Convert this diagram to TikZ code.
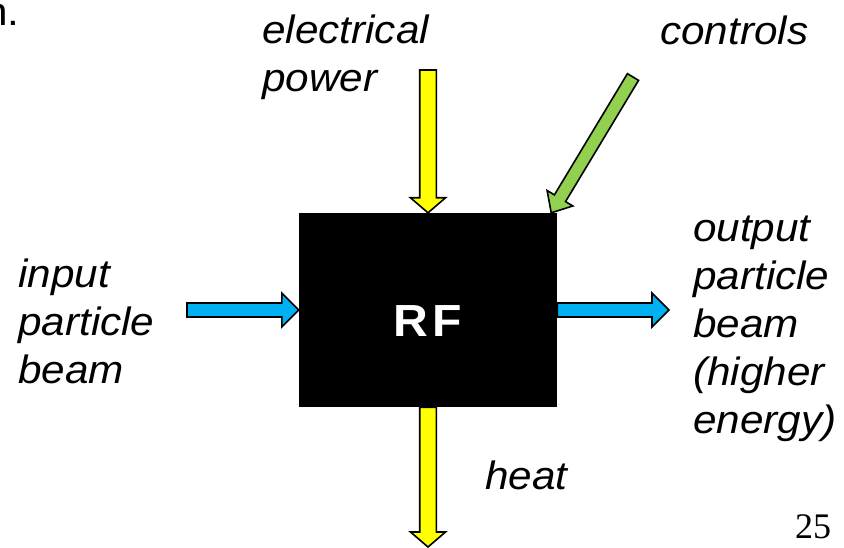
\documentclass[tikz,border=0pt]{standalone}
\usepackage{fontspec}
\setmainfont{Liberation Sans}[FakeStretch=1.07]
\newfontfamily\pagefont{Liberation Serif}
\usetikzlibrary{calc,positioning}

\definecolor{pwryellow}{RGB}{255,255,0}
\definecolor{beamblue}{RGB}{0,176,240}
\definecolor{ctlgreen}{RGB}{146,208,80}

% block arrow: fill, tail, tip, shaft half width, head half width, head length
\newcommand{\blockarrow}[6]{%
  \coordinate (hb) at ($(#3)!#6!(#2)$);
  \draw[arrowline, fill=#1]
    ($(#2)!#4!90:(#3)$) -- ($(hb)!#4!90:(#3)$) -- ($(hb)!#5!90:(#3)$) -- (#3)
    -- ($(hb)!#5!-90:(#3)$) -- ($(hb)!#4!-90:(#3)$) -- ($(#2)!#4!-90:(#3)$) -- cycle;}

\begin{document}
\begin{tikzpicture}[
  x=1pt, y=-1pt,
  lbl/.style={font=\fontsize{39.5}{48}\selectfont\itshape, align=left,
              inner sep=0pt, anchor=base west},
  blackbox/.style={fill=black, draw=none, minimum width=258pt,
                   minimum height=194pt, inner sep=0pt, text=white,
                   text height=52pt, text depth=0pt,
                   font=\fontsize{45}{50}\selectfont\bfseries},
  arrowline/.style={draw=black, line width=1.6pt, line join=miter},
]
\useasboundingbox (0,0) rectangle (844,548);
\clip (0,0) rectangle (844,548);

\node[blackbox] (rf) at (428,310) {R\kern4pt F};

% arrow ends
\coordinate (pwr) at (428,70);
\coordinate (ctl) at (633,77);
\coordinate (ctltip) at ([xshift=-6pt]rf.north east);
\coordinate (inbeam) at (187,310);
\coordinate (outbeam) at (669,310);
\coordinate (heatout) at (428,547);

\blockarrow{pwryellow}{pwr}{rf.north}{8.3pt}{17.5pt}{15pt}
\blockarrow{ctlgreen}{ctl}{ctltip}{6.5pt}{15pt}{17pt}
\blockarrow{beamblue}{inbeam}{rf.west}{7pt}{17pt}{17pt}
\blockarrow{beamblue}{rf.east}{outbeam}{7pt}{17pt}{17pt}
\blockarrow{pwryellow}{rf.south}{heatout}{8.3pt}{17.5pt}{15pt}

% labels (base = last line)
\node[lbl] (pwrlbl) at (262,92) {electrical\\power};
\node[lbl] (ctllbl) at (660,45) {controls};
\node[lbl] (inlbl) at (18,383) {input\\particle\\beam};
\node[lbl] (outlbl) at (693,433) {output\\particle\\beam\\(higher\\energy)};
\node[lbl] (heatlbl) at (485,489) {heat};
\node[lbl, font=\fontsize{39.5}{48}\selectfont, anchor=base east] (prev) at (19.5,26) {n.};
\node[inner sep=0pt, anchor=base west, font=\pagefont\fontsize{36}{40}\selectfont] (pgno) at (795,538) {25};
\end{tikzpicture}
\end{document}
